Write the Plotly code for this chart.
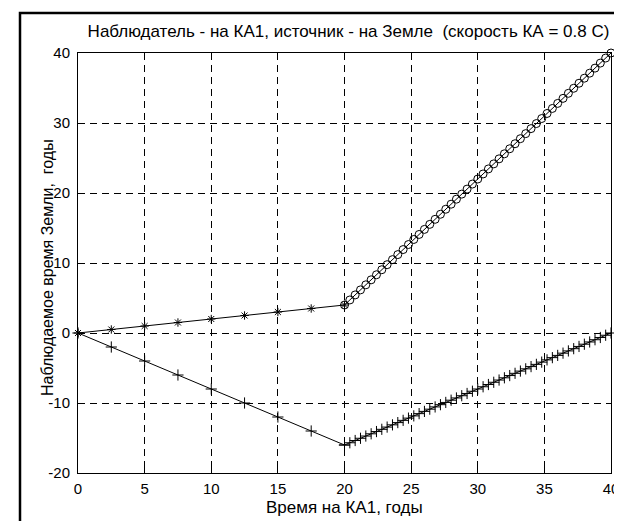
import plotly.graph_objects as go

# Outbound leg (ship time 0..20 years)
t_out = [0, 2.5, 5, 7.5, 10, 12.5, 15, 17.5, 20]
earth_out_src = [0, 0.5, 1.0, 1.5, 2.0, 2.5, 3.0, 3.5, 4.0]
earth_out_low = [0, -2, -4, -6, -8, -10, -12, -14, -16]

# Return leg (ship time 20..40 years)
t_ret = [20.0, 20.4, 20.8, 21.2, 21.6, 22.0, 22.4, 22.8, 23.2, 23.6, 24.0, 24.4, 24.8,
         25.2, 25.6, 26.0, 26.4, 26.8, 27.2, 27.6, 28.0, 28.4, 28.8, 29.2, 29.6, 30.0,
         30.4, 30.8, 31.2, 31.6, 32.0, 32.4, 32.8, 33.2, 33.6, 34.0, 34.4, 34.8, 35.2,
         35.6, 36.0, 36.4, 36.8, 37.2, 37.6, 38.0, 38.4, 38.8, 39.2, 39.6, 40.0]
earth_ret_src = [4.00, 4.72, 5.44, 6.16, 6.88, 7.60, 8.32, 9.04, 9.76, 10.48, 11.20, 11.92,
                 12.64, 13.36, 14.08, 14.80, 15.52, 16.24, 16.96, 17.68, 18.40, 19.12, 19.84,
                 20.56, 21.28, 22.00, 22.72, 23.44, 24.16, 24.88, 25.60, 26.32, 27.04, 27.76,
                 28.48, 29.20, 29.92, 30.64, 31.36, 32.08, 32.80, 33.52, 34.24, 34.96, 35.68,
                 36.40, 37.12, 37.84, 38.56, 39.28, 40.00]
earth_ret_low = [-16.00, -15.68, -15.36, -15.04, -14.72, -14.40, -14.08, -13.76, -13.44,
                 -13.12, -12.80, -12.48, -12.16, -11.84, -11.52, -11.20, -10.88, -10.56,
                 -10.24, -9.92, -9.60, -9.28, -8.96, -8.64, -8.32, -8.00, -7.68, -7.36,
                 -7.04, -6.72, -6.40, -6.08, -5.76, -5.44, -5.12, -4.80, -4.48, -4.16,
                 -3.84, -3.52, -3.20, -2.88, -2.56, -2.24, -1.92, -1.60, -1.28, -0.96,
                 -0.64, -0.32, 0.00]

x_ticks = [0, 5, 10, 15, 20, 25, 30, 35, 40]
y_ticks = [-20, -10, 0, 10, 20, 30, 40]

title_text = "Наблюдатель - на КА1, источник - на Земле  (скорость КА = 0.8 С)"
x_title = "Время на КА1, годы"
y_title = "Наблюдаемое время Земли,  годы"

FONT = "Liberation Sans, Arial, sans-serif"

fig = go.Figure()
line = dict(color="black", width=1)

fig.add_trace(go.Scatter(x=t_out, y=earth_out_src, mode="lines+markers", line=line,
                         marker=dict(symbol="asterisk-open", size=7, color="black",
                                     line=dict(color="black", width=1)),
                         cliponaxis=False, showlegend=False))
fig.add_trace(go.Scatter(x=t_out, y=earth_out_low, mode="lines+markers", line=line,
                         marker=dict(symbol="cross-thin-open", size=8, color="black",
                                     line=dict(color="black", width=1)),
                         cliponaxis=False, showlegend=False))
fig.add_trace(go.Scatter(x=t_ret, y=earth_ret_src, mode="lines+markers", line=line,
                         marker=dict(symbol="circle-open", size=8, color="black",
                                     line=dict(color="black", width=1)),
                         cliponaxis=False, showlegend=False))
fig.add_trace(go.Scatter(x=t_ret, y=earth_ret_low, mode="lines+markers", line=line,
                         marker=dict(symbol="cross-thin-open", size=8, color="black",
                                     line=dict(color="black", width=1)),
                         cliponaxis=False, showlegend=False))

L, R, T, B = 70, 19, 45, 56
W, H = 622, 521
pw, ph = W - L - R, H - T - B

axis_common = dict(
    showline=True, linecolor="black", linewidth=1, mirror="ticks",
    ticks="inside", ticklen=5, tickcolor="black", tickwidth=1,
    showgrid=True, gridcolor="black", gridwidth=1, griddash="7px,5px",
    zeroline=False, tickfont=dict(family=FONT, size=15, color="black"),
)

fig.update_xaxes(range=[0, 40], tickvals=x_ticks, ticktext=[str(v) for v in x_ticks],
                 ticklabelstandoff=2, **axis_common)
fig.update_yaxes(range=[-20, 40], tickvals=y_ticks, ticktext=[str(v) for v in y_ticks],
                 ticklabelstandoff=4, **axis_common)

# axis titles placed as annotations
fig.add_annotation(text=x_title, xref="paper", yref="paper",
                   x=0.5, y=(H - B - 499) / ph, xanchor="center", yanchor="middle",
                   showarrow=False, font=dict(family=FONT, size=17, color="black"))
fig.add_annotation(text=y_title, xref="paper", yref="paper", textangle=-90,
                   x=(39 - L) / pw, y=(H - B - 260) / ph, xanchor="center", yanchor="middle",
                   showarrow=False, font=dict(family=FONT, size=16, color="black"))

# outer figure frame
fig.add_shape(type="rect", xref="paper", yref="paper",
              x0=(12 - L) / pw, x1=(616 - L) / pw,
              y0=(H - B - 517) / ph, y1=(H - B - 5) / ph,
              line=dict(color="black", width=2.5), fillcolor="rgba(0,0,0,0)", layer="below")

fig.update_layout(
    width=W, height=H,
    margin=dict(l=L, r=R, t=T, b=B),
    paper_bgcolor="white", plot_bgcolor="white",
    title=dict(text=title_text, x=(L + pw / 2 + 4) / W, xanchor="center",
               y=1 - 23 / H, yanchor="middle",
               font=dict(family=FONT, size=17, color="black")),
    font=dict(family=FONT, color="black"),
)

fig.write_html("out.html")
